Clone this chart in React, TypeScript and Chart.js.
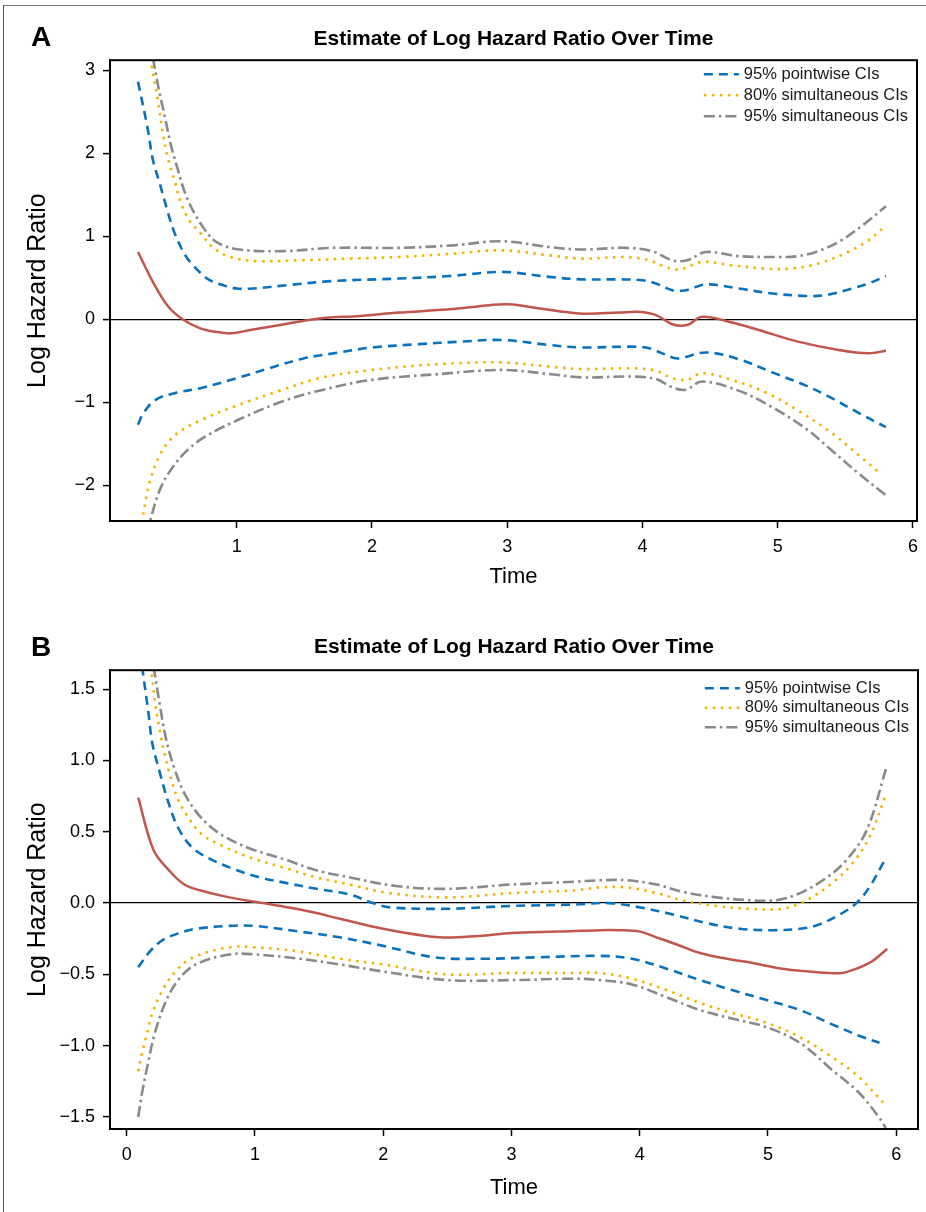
import React, { useEffect, useRef } from "react";
import { Chart, registerables } from "chart.js";

Chart.register(...registerables);

const FONT = '"Liberation Sans", Arial, Helvetica, sans-serif';
Chart.defaults.font.family = FONT;

const TITLE = "Estimate of Log Hazard Ratio Over Time";
const X_TITLE = "Time";
const Y_TITLE = "Log Hazard Ratio";
const LEGEND_LABELS = ["95% pointwise CIs", "80% simultaneous CIs", "95% simultaneous CIs"];

// ---------- Panel A ----------
const aXTicks = [1, 2, 3, 4, 5, 6];
const aXTickLabels = ["1", "2", "3", "4", "5", "6"];
const aYTicks = [-2, -1, 0, 1, 2, 3];
const aYTickLabels = ["\u22122", "\u22121", "0", "1", "2", "3"];

const aEstX = [0.27, 0.38, 0.49, 0.6, 0.73, 0.84, 0.96, 1.1, 1.32, 1.61, 1.91, 2.2, 2.57, 2.87, 3.01, 3.24, 3.53, 3.83, 3.97, 4.1, 4.22, 4.33, 4.44, 4.64, 4.86, 5.15, 5.45, 5.67, 5.8];
const aEstY = [0.81, 0.45, 0.16, 0.0, -0.11, -0.15, -0.17, -0.13, -0.07, 0.01, 0.04, 0.08, 0.12, 0.17, 0.18, 0.13, 0.07, 0.08, 0.09, 0.05, -0.06, -0.07, 0.03, -0.03, -0.13, -0.27, -0.37, -0.41, -0.38];

const aPwUpX = [0.27, 0.34, 0.38, 0.43, 0.48, 0.54, 0.62, 0.7, 0.8, 0.9, 1.0, 1.12, 1.37, 1.71, 2.2, 2.57, 2.96, 3.31, 3.55, 3.83, 4.0, 4.1, 4.22, 4.32, 4.47, 4.71, 4.96, 5.21, 5.35, 5.55, 5.67, 5.8];
const aPwUpY = [2.86, 2.31, 1.92, 1.64, 1.35, 1.04, 0.77, 0.61, 0.47, 0.41, 0.37, 0.37, 0.41, 0.46, 0.49, 0.52, 0.57, 0.51, 0.48, 0.48, 0.47, 0.43, 0.35, 0.35, 0.42, 0.37, 0.31, 0.28, 0.29, 0.37, 0.43, 0.52];
const aPwLoX = [0.27, 0.31, 0.4, 0.54, 0.73, 1.0, 1.24, 1.5, 1.76, 2.0, 2.35, 2.65, 2.96, 3.31, 3.55, 3.92, 4.05, 4.22, 4.28, 4.47, 4.71, 4.96, 5.21, 5.4, 5.6, 5.8];
const aPwLoY = [-1.27, -1.13, -0.97, -0.89, -0.83, -0.71, -0.59, -0.47, -0.4, -0.34, -0.3, -0.27, -0.25, -0.31, -0.34, -0.33, -0.35, -0.46, -0.47, -0.4, -0.48, -0.64, -0.8, -0.95, -1.13, -1.3];

const aS80UpX = [0.36, 0.42, 0.45, 0.49, 0.54, 0.59, 0.65, 0.73, 0.82, 0.95, 1.15, 1.46, 1.83, 2.2, 2.6, 2.96, 3.31, 3.55, 3.88, 4.05, 4.17, 4.28, 4.44, 4.66, 4.91, 5.1, 5.3, 5.52, 5.67, 5.78];
const aS80UpY = [3.15, 2.6, 2.28, 1.95, 1.67, 1.39, 1.19, 1.04, 0.87, 0.75, 0.7, 0.71, 0.73, 0.75, 0.79, 0.83, 0.77, 0.73, 0.75, 0.71, 0.63, 0.6, 0.69, 0.65, 0.61, 0.61, 0.67, 0.81, 0.95, 1.1];
const aS80LoX = [0.3, 0.33, 0.36, 0.43, 0.54, 0.73, 1.0, 1.32, 1.61, 2.0, 2.5, 2.96, 3.31, 3.55, 3.92, 4.1, 4.22, 4.33, 4.44, 4.66, 4.91, 5.15, 5.4, 5.6, 5.76];
const aS80LoY = [-2.45, -2.15, -1.94, -1.64, -1.4, -1.22, -1.04, -0.86, -0.71, -0.61, -0.54, -0.52, -0.57, -0.6, -0.59, -0.62, -0.71, -0.73, -0.65, -0.73, -0.88, -1.1, -1.37, -1.64, -1.86];

const aS95UpX = [0.38, 0.43, 0.47, 0.51, 0.56, 0.63, 0.73, 0.85, 1.02, 1.34, 1.71, 2.2, 2.6, 2.96, 3.31, 3.55, 3.88, 4.07, 4.22, 4.33, 4.47, 4.71, 5.01, 5.15, 5.3, 5.47, 5.65, 5.8];
const aS95UpY = [3.15, 2.72, 2.43, 2.12, 1.83, 1.47, 1.16, 0.93, 0.84, 0.82, 0.86, 0.86, 0.89, 0.94, 0.87, 0.84, 0.86, 0.82, 0.71, 0.71, 0.81, 0.76, 0.75, 0.76, 0.82, 0.95, 1.16, 1.36];
const aS95LoX = [0.34, 0.36, 0.43, 0.51, 0.62, 0.76, 1.0, 1.32, 1.61, 2.0, 2.5, 2.96, 3.31, 3.55, 3.92, 4.1, 4.22, 4.32, 4.44, 4.71, 4.96, 5.21, 5.4, 5.6, 5.8];
const aS95LoY = [-2.6, -2.43, -2.06, -1.82, -1.6, -1.42, -1.22, -1.0, -0.86, -0.73, -0.66, -0.61, -0.66, -0.7, -0.69, -0.72, -0.82, -0.85, -0.75, -0.86, -1.06, -1.32, -1.58, -1.86, -2.12];

// ---------- Panel B ----------
const bXTicks = [0, 1, 2, 3, 4, 5, 6];
const bXTickLabels = ["0", "1", "2", "3", "4", "5", "6"];
const bYTicks = [-1.5, -1.0, -0.5, 0.0, 0.5, 1.0, 1.5];
const bYTickLabels = ["\u22121.5", "\u22121.0", "\u22120.5", "0.0", "0.5", "1.0", "1.5"];

const bEstX = [0.09, 0.21, 0.34, 0.45, 0.57, 0.8, 1.06, 1.32, 1.48, 1.66, 2.0, 2.44, 2.75, 3.0, 3.37, 3.69, 3.84, 4.0, 4.13, 4.29, 4.47, 4.68, 4.88, 5.11, 5.32, 5.48, 5.58, 5.69, 5.81, 5.93];
const bEstY = [0.74, 0.37, 0.22, 0.13, 0.09, 0.04, 0.0, -0.04, -0.07, -0.11, -0.18, -0.24, -0.23, -0.21, -0.2, -0.19, -0.19, -0.2, -0.24, -0.29, -0.35, -0.39, -0.42, -0.46, -0.48, -0.49, -0.49, -0.46, -0.41, -0.32];

const bPwUpX = [0.12, 0.17, 0.2, 0.26, 0.32, 0.4, 0.51, 0.65, 0.83, 1.04, 1.25, 1.48, 1.74, 1.92, 2.05, 2.5, 3.0, 3.5, 3.76, 4.0, 4.26, 4.52, 4.78, 5.04, 5.25, 5.4, 5.56, 5.69, 5.79, 5.91];
const bPwUpY = [1.66, 1.33, 1.12, 0.91, 0.72, 0.53, 0.39, 0.31, 0.24, 0.18, 0.14, 0.1, 0.06, 0.0, -0.03, -0.04, -0.02, -0.01, 0.0, -0.03, -0.08, -0.14, -0.18, -0.19, -0.18, -0.15, -0.08, 0.0, 0.11, 0.3];
const bPwLoX = [0.09, 0.18, 0.28, 0.41, 0.54, 0.8, 1.0, 1.35, 1.66, 2.0, 2.4, 2.8, 3.2, 3.69, 3.94, 4.21, 4.47, 4.72, 4.99, 5.25, 5.5, 5.71, 5.87];
const bPwLoY = [-0.45, -0.34, -0.26, -0.21, -0.18, -0.16, -0.16, -0.2, -0.24, -0.3, -0.38, -0.39, -0.38, -0.37, -0.39, -0.46, -0.54, -0.61, -0.68, -0.75, -0.85, -0.93, -0.98];

const bS80UpX = [0.19, 0.22, 0.26, 0.3, 0.34, 0.4, 0.48, 0.59, 0.75, 0.96, 1.22, 1.48, 1.74, 2.05, 2.5, 3.0, 3.5, 3.69, 3.9, 4.13, 4.33, 4.6, 4.86, 5.11, 5.3, 5.5, 5.66, 5.79, 5.92];
const bS80UpY = [1.66, 1.42, 1.2, 1.03, 0.89, 0.73, 0.6, 0.48, 0.4, 0.32, 0.25, 0.18, 0.13, 0.07, 0.04, 0.07, 0.09, 0.11, 0.11, 0.07, 0.02, -0.02, -0.04, -0.04, 0.02, 0.14, 0.28, 0.46, 0.76];
const bS80LoX = [0.09, 0.12, 0.16, 0.2, 0.28, 0.39, 0.52, 0.8, 1.0, 1.35, 1.66, 2.0, 2.5, 3.0, 3.5, 3.69, 3.94, 4.21, 4.47, 4.72, 4.99, 5.25, 5.5, 5.71, 5.92];
const bS80LoY = [-1.18, -1.05, -0.91, -0.77, -0.61, -0.47, -0.38, -0.31, -0.31, -0.34, -0.39, -0.43, -0.5, -0.49, -0.49, -0.49, -0.53, -0.61, -0.7, -0.77, -0.84, -0.94, -1.08, -1.22, -1.42];

const bS95UpX = [0.21, 0.26, 0.31, 0.37, 0.45, 0.57, 0.72, 0.94, 1.22, 1.48, 1.74, 2.1, 2.5, 3.0, 3.5, 3.69, 3.9, 4.13, 4.33, 4.6, 4.86, 5.06, 5.25, 5.46, 5.61, 5.77, 5.92];
const bS95UpY = [1.66, 1.38, 1.14, 0.95, 0.77, 0.61, 0.49, 0.39, 0.31, 0.23, 0.18, 0.12, 0.1, 0.13, 0.15, 0.16, 0.16, 0.13, 0.08, 0.04, 0.02, 0.02, 0.07, 0.18, 0.3, 0.51, 0.94];
const bS95LoX = [0.09, 0.12, 0.16, 0.22, 0.31, 0.41, 0.54, 0.8, 1.0, 1.35, 1.66, 2.0, 2.5, 3.0, 3.5, 3.69, 3.94, 4.21, 4.47, 4.72, 4.99, 5.25, 5.5, 5.71, 5.88, 5.93];
const bS95LoY = [-1.5, -1.33, -1.15, -0.91, -0.68, -0.53, -0.43, -0.36, -0.36, -0.39, -0.43, -0.48, -0.54, -0.54, -0.53, -0.54, -0.57, -0.66, -0.75, -0.81, -0.87, -0.98, -1.17, -1.33, -1.52, -1.6];

// ---------- styles ----------
const STYLES = {
  est: { color: "#c1574c", dash: [] as number[], width: 2.5 },
  pw: { color: "#0a72bd", dash: [9, 6], width: 2.6 },
  s80: { color: "#f0b400", dash: [2.5, 5.5], width: 2.6 },
  s95: { color: "#8a8a8a", dash: [11, 4, 2.5, 4], width: 2.6 },
};

const zip = (xs: number[], ys: number[]) => xs.map((x, i) => ({ x, y: ys[i] }));

function ds(label: string, xs: number[], ys: number[], st: { color: string; dash: number[]; width: number }) {
  return {
    label,
    data: zip(xs, ys),
    borderColor: st.color,
    backgroundColor: st.color,
    borderDash: st.dash,
    borderWidth: st.width,
    pointRadius: 0,
    tension: 0.35,
    fill: false,
  };
}

type PanelSpec = {
  series: any[];
  xMin: number; xMax: number; xTicks: number[]; xTickLabels: string[];
  yMin: number; yMax: number; yTicks: number[]; yTickLabels: string[];
  titlePad: { top: number; bottom: number };
  xAxisHeight: number;
  xTitlePadBottom: number;
  legendTop: number;
  legendRow: number;
};

const W = 926;
const H = 606;

function makeConfig(p: PanelSpec): any {
  const framePlugin = {
    id: "frameBox",
    afterDraw(chart: any) {
      const { ctx, chartArea: a } = chart;
      ctx.save();
      ctx.strokeStyle = "#000";
      ctx.lineWidth = 2;
      ctx.setLineDash([]);
      ctx.strokeRect(a.left, a.top, a.right - a.left, a.bottom - a.top);
      ctx.restore();
    },
  };
  const legendPlugin = {
    id: "ciLegend",
    afterDraw(chart: any) {
      const { ctx, chartArea: a } = chart;
      const styles = [STYLES.pw, STYLES.s80, STYLES.s95];
      ctx.save();
      ctx.font = `16.5px ${FONT}`;
      const maxW = Math.max(...LEGEND_LABELS.map((l) => ctx.measureText(l).width));
      const textX = a.right - 9 - maxW;
      LEGEND_LABELS.forEach((lab, i) => {
        const st = styles[i];
        const y = a.top + p.legendTop + i * p.legendRow;
        ctx.setLineDash(st.dash);
        ctx.strokeStyle = st.color;
        ctx.lineWidth = st.width;
        ctx.beginPath();
        ctx.moveTo(textX - 40, y);
        ctx.lineTo(textX - 5, y);
        ctx.stroke();
        ctx.setLineDash([]);
        ctx.fillStyle = "#1a1a1a";
        ctx.textAlign = "left";
        ctx.textBaseline = "middle";
        ctx.fillText(lab, textX, y);
      });
      ctx.restore();
    },
  };

  return {
    type: "line",
    data: {
      datasets: [
        ds("Estimate", p.series[0][0], p.series[0][1], STYLES.est),
        ds(LEGEND_LABELS[0], p.series[1][0], p.series[1][1], STYLES.pw),
        ds(LEGEND_LABELS[0] + " lower", p.series[2][0], p.series[2][1], STYLES.pw),
        ds(LEGEND_LABELS[1], p.series[3][0], p.series[3][1], STYLES.s80),
        ds(LEGEND_LABELS[1] + " lower", p.series[4][0], p.series[4][1], STYLES.s80),
        ds(LEGEND_LABELS[2], p.series[5][0], p.series[5][1], STYLES.s95),
        ds(LEGEND_LABELS[2] + " lower", p.series[6][0], p.series[6][1], STYLES.s95),
      ],
    },
    options: {
      responsive: false,
      animation: false,
      devicePixelRatio: 1,
      layout: { padding: { left: 0, right: 8, top: 0, bottom: 0 } },
      plugins: {
        legend: { display: false },
        tooltip: { enabled: false },
        title: {
          display: true,
          text: TITLE,
          fullSize: false,
          color: "#000",
          font: { size: 21, weight: "bold", family: FONT },
          padding: p.titlePad,
        },
      },
      scales: {
        x: {
          type: "linear",
          min: p.xMin,
          max: p.xMax,
          afterBuildTicks: (s: any) => { s.ticks = p.xTicks.map((v) => ({ value: v })); },
          afterFit: (s: any) => { s.height = p.xAxisHeight; },
          ticks: {
            color: "#000",
            font: { size: 18 },
            padding: 8,
            maxRotation: 0,
            autoSkip: false,
            callback: (v: number) => p.xTickLabels[p.xTicks.indexOf(v)] ?? "",
          },
          grid: { drawOnChartArea: false, drawTicks: true, tickLength: 7, tickColor: "#000", tickWidth: 1.5 },
          border: { display: true, color: "#000", width: 2 },
          title: { display: true, text: X_TITLE, color: "#000", font: { size: 22 }, padding: { top: 0, bottom: p.xTitlePadBottom } },
        },
        y: {
          type: "linear",
          min: p.yMin,
          max: p.yMax,
          afterBuildTicks: (s: any) => { s.ticks = p.yTicks.map((v) => ({ value: v })); },
          afterFit: (s: any) => { s.width = 110; },
          ticks: {
            color: "#000",
            font: { size: 18 },
            padding: 8,
            autoSkip: false,
            callback: (v: number) => {
              const i = p.yTicks.findIndex((t) => Math.abs(t - v) < 1e-9);
              return i >= 0 ? p.yTickLabels[i] : "";
            },
          },
          grid: {
            drawOnChartArea: true,
            drawTicks: true,
            tickLength: 7,
            tickColor: "#000",
            tickWidth: 1.5,
            color: (c: any) => (c.tick && Math.abs(c.tick.value) < 1e-9 ? "#000" : "rgba(0,0,0,0)"),
            lineWidth: 1.2,
          },
          border: { display: true, color: "#000", width: 2 },
          title: { display: true, text: Y_TITLE, color: "#000", font: { size: 25 }, padding: { top: 23, bottom: 0 } },
        },
      },
    },
    plugins: [framePlugin, legendPlugin],
  };
}

const panelA: PanelSpec = {
  series: [[aEstX, aEstY], [aPwUpX, aPwUpY], [aPwLoX, aPwLoY], [aS80UpX, aS80UpY], [aS80LoX, aS80LoY], [aS95UpX, aS95UpY], [aS95LoX, aS95LoY]],
  xMin: 0.063, xMax: 6.03, xTicks: aXTicks, xTickLabels: aXTickLabels,
  yMin: -2.43, yMax: 3.12, yTicks: aYTicks, yTickLabels: aYTickLabels,
  titlePad: { top: 27, bottom: 8 },
  xAxisHeight: 85,
  xTitlePadBottom: 16,
  legendTop: 14,
  legendRow: 21,
};

const panelB: PanelSpec = {
  series: [[bEstX, bEstY], [bPwUpX, bPwUpY], [bPwLoX, bPwLoY], [bS80UpX, bS80UpY], [bS80LoX, bS80LoY], [bS95UpX, bS95UpY], [bS95LoX, bS95LoY]],
  xMin: -0.13, xMax: 6.17, xTicks: bXTicks, xTickLabels: bXTickLabels,
  yMin: -1.584, yMax: 1.633, yTicks: bYTicks, yTickLabels: bYTickLabels,
  titlePad: { top: 29, bottom: 10 },
  xAxisHeight: 83,
  xTitlePadBottom: 11,
  legendTop: 18,
  legendRow: 19.5,
};

function Panel({ spec, top, letter }: { spec: PanelSpec; top: number; letter: string }) {
  const ref = useRef<HTMLCanvasElement>(null);
  useEffect(() => {
    if (!ref.current) return;
    const chart = new Chart(ref.current, makeConfig(spec));
    return () => chart.destroy();
  }, [spec]);
  return (
    <div style={{ position: "absolute", left: 0, top, width: W, height: H }}>
      <canvas ref={ref} width={W} height={H} style={{ width: W, height: H, display: "block" }} />
      <div
        style={{
          position: "absolute",
          left: 31,
          top: letter === "A" ? 23 : 27,
          fontFamily: FONT,
          fontWeight: "bold",
          fontSize: 28,
          lineHeight: "28px",
          color: "#000",
        }}
      >
        {letter}
      </div>
    </div>
  );
}

export default function App() {
  return (
    <div style={{ position: "absolute", left: 0, top: 0, width: 926, height: 1212, overflow: "hidden", background: "#fff" }}>
      <div
        style={{
          position: "absolute",
          left: 3,
          top: 5,
          width: 940,
          height: 1230,
          borderLeft: "1.5px solid #555",
          borderTop: "1.5px solid #777",
        }}
      />
      <Panel spec={panelA} top={0} letter="A" />
      <Panel spec={panelB} top={606} letter="B" />
    </div>
  );
}
